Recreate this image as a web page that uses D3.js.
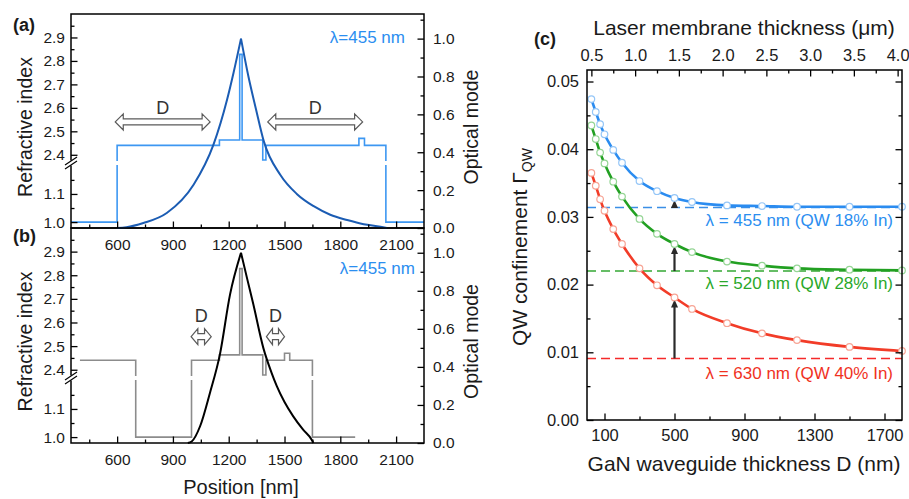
<!DOCTYPE html>
<html>
<head>
<meta charset="utf-8">
<script src="https://cdn.jsdelivr.net/npm/d3@7"></script>
<style>
  body { margin: 0; background: #fff; }
  svg { display: block; font-family: "Liberation Sans", Arial, Helvetica, sans-serif; }
</style>
</head>
<body>
<svg id="fig" width="909" height="499"></svg>
<script>
// ---------- data, panels (a) and (b) ----------
const posTicks = [600, 900, 1200, 1500, 1800, 2100];
const posMinor = [450, 750, 1050, 1350, 1650, 1950];
const indexTicks = [1.0, 1.1, 2.4, 2.5, 2.6, 2.7, 2.8, 2.9];
const indexMinor = [1.05, 1.15, 2.45, 2.55, 2.65, 2.75, 2.85, 2.95];
const modeTicks = [0, 0.2, 0.4, 0.6, 0.8, 1.0];
const modeMinor = [0.1, 0.3, 0.5, 0.7, 0.9, 1.1];

// refractive index steps: [start position (nm), index]
const indexA = [[352, 1.0], [600, 2.44], [1150, 2.463], [1259, 2.828], [1272, 2.463],
  [1383, 2.378], [1400, 2.44], [1900, 2.47], [1930, 2.44], [2045, 1.0], [2250, 1.0]];
const indexB = [[400, 2.44], [700, 1.0], [1000, 2.44], [1150, 2.463], [1259, 2.828], [1272, 2.463],
  [1383, 2.378], [1400, 2.44], [1500, 2.47], [1528, 2.44], [1650, 1.0], [1880, 1.0]];

// optical mode |E|^2, left and right of the peak
const modeALeft = [[600, 0], [650, 0.004], [741, 0.026], [867, 0.079], [1011, 0.228],
  [1118, 0.44], [1191, 0.677], [1226, 0.82], [1266, 1.0]];
const modeARight = [[1266, 1.0], [1306, 0.8], [1346, 0.63], [1388, 0.46], [1478, 0.28],
  [1566, 0.18], [1657, 0.115], [1746, 0.07], [1837, 0.042], [1926, 0.02], [2016, 0.007], [2050, 0]];
const modeBLeft = [[980, 0], [1001, 0.008], [1046, 0.088], [1099, 0.263], [1153, 0.467],
  [1207, 0.78], [1266, 1.0]];
const modeBRight = [[1266, 1.0], [1300, 0.86], [1332, 0.73], [1386, 0.5], [1430, 0.37],
  [1458, 0.3], [1500, 0.215], [1547, 0.14], [1600, 0.07], [1646, 0.017], [1655, 0]];

// "D" arrows, [from, to] in nm
const dArrowsA = [[590, 1100], [1410, 1920]];
const dArrowsB = [[998, 1106], [1403, 1500]];

// ---------- data, panel (c) ----------
const thicknessD = [25, 50, 75, 100, 150, 200, 300, 400, 500, 600, 800, 1000, 1200, 1500, 1800];
const gamma455 = [0.0474, 0.0455, 0.0437, 0.0422, 0.0399, 0.0380, 0.0353, 0.0338, 0.0328,
  0.0322, 0.0317, 0.0316, 0.0315, 0.0315, 0.0315];
const gamma520 = [0.0435, 0.0415, 0.0395, 0.0379, 0.0352, 0.0330, 0.0297, 0.0275, 0.0260,
  0.0248, 0.0234, 0.0228, 0.0224, 0.0222, 0.0221];
const gamma630 = [0.0365, 0.0346, 0.0326, 0.0309, 0.0282, 0.0260, 0.0224, 0.0199, 0.0181,
  0.0164, 0.0143, 0.0128, 0.0118, 0.0108, 0.0102];
const bulkGamma = [0.0314, 0.0220, 0.0091];
const seriesNames = ["\u03bb = 455 nm (QW 18% In)", "\u03bb = 520 nm (QW 28% In)", "\u03bb = 630 nm (QW 40% In)"];
const dTicks = [100, 500, 900, 1300, 1700];
const dMinor = [300, 700, 1100, 1500];
const membraneTicks = [0.5, 1.0, 1.5, 2.0, 2.5, 3.0, 3.5, 4.0];
const membraneMinor = [0.75, 1.25, 1.75, 2.25, 2.75, 3.25, 3.75];
const gammaTicks = [0, 0.01, 0.02, 0.03, 0.04, 0.05];
const gammaMinor = [0.005, 0.015, 0.025, 0.035, 0.045];
const arrowD = 500;

// ---------- drawing ----------
const svg = d3.select("#fig");
svg.append("rect").attr("width", 909).attr("height", 499).attr("fill", "#fff");

function styleAxis(g, size) {
  g.select(".domain").remove();
  g.selectAll("line").attr("stroke", "#000").attr("stroke-width", 1.3);
  g.selectAll("text").attr("font-size", size).attr("fill", "#1a1a1a").attr("font-family", null);
}

// makeAxis returns a fresh d3 axis each time (minor + major ticks, all pointing inwards)
function tickAxis(g, makeAxis, major, minor, fmt, pad, size) {
  g.append("g").call(makeAxis().tickValues(minor).tickSize(-3.5).tickFormat(""))
    .call(s => styleAxis(s, size));
  g.append("g").call(makeAxis().tickValues(major).tickSize(-6.5).tickPadding(pad).tickFormat(fmt))
    .call(s => styleAxis(s, size));
}

const xPos = d3.scaleLinear().domain([352, 2250]).range([71, 424]);
const L = 71, R = 424;

function drawPanel(T, B, idxData, mLeft, mRight, idxColor, modeColor, arrows, dGap, lam, tag) {
  const yBreak = B - 65;
  const yIdx = d3.scaleLinear().domain([0.979, 1.21, 2.365, 3.0]).range([B, yBreak, yBreak, T]);
  const yMode = d3.scaleLinear().domain([0, 1.13]).range([B, T]);
  const g = svg.append("g");

  // index profile, with a gap where it crosses the axis break
  const cid = "clip" + tag;
  const clip = g.append("clipPath").attr("id", cid);
  clip.append("rect").attr("x", L).attr("y", T).attr("width", R - L).attr("height", yBreak - 2 - T);
  clip.append("rect").attr("x", L).attr("y", yBreak + 2).attr("width", R - L).attr("height", B - yBreak - 2);
  const stepLine = d3.line().x(d => xPos(d[0])).y(d => yIdx(d[1])).curve(d3.curveStepAfter);
  g.append("path").datum(idxData).attr("d", stepLine).attr("clip-path", `url(#${cid})`)
    .attr("fill", "none").attr("stroke", idxColor).attr("stroke-width", 1.6);

  // optical mode
  const modeLine = d3.line().x(d => xPos(d[0])).y(d => yMode(d[1])).curve(d3.curveMonotoneX);
  [mLeft, mRight].forEach(part => {
    g.append("path").datum(part).attr("d", modeLine)
      .attr("fill", "none").attr("stroke", modeColor).attr("stroke-width", 2);
  });

  // hollow double arrows labelled D
  arrows.forEach(([a, b]) => {
    const x1 = xPos(a), x2 = xPos(b), yc = yIdx(2.54);
    const hl = Math.min(8, (x2 - x1) / 3), hh = 8, sh = 3;
    const p = `M${x1},${yc}L${x1 + hl},${yc - hh}L${x1 + hl},${yc - sh}L${x2 - hl},${yc - sh}L${x2 - hl},${yc - hh}` +
      `L${x2},${yc}L${x2 - hl},${yc + hh}L${x2 - hl},${yc + sh}L${x1 + hl},${yc + sh}L${x1 + hl},${yc + hh}Z`;
    g.append("path").attr("d", p).attr("fill", "#fff").attr("stroke", "#5a5a5a").attr("stroke-width", 1.2);
    g.append("text").attr("x", (x1 + x2) / 2).attr("y", yc - dGap).attr("text-anchor", "middle")
      .attr("font-size", 18).attr("fill", "#333").text("D");
  });

  // frame
  g.append("rect").attr("x", L).attr("y", T).attr("width", R - L).attr("height", B - T)
    .attr("fill", "none").attr("stroke", "#000").attr("stroke-width", 1.5);

  // axes
  tickAxis(g.append("g").attr("transform", `translate(${L},0)`), () => d3.axisLeft(yIdx),
    indexTicks, indexMinor, d3.format(".1f"), 6, 15.5);
  tickAxis(g.append("g").attr("transform", `translate(${R},0)`), () => d3.axisRight(yMode),
    modeTicks, modeMinor, d3.format(".1f"), 9, 15.5);
  tickAxis(g.append("g").attr("transform", `translate(0,${B})`), () => d3.axisBottom(xPos),
    posTicks, posMinor, d3.format("d"), 11, 15.5);

  // axis break marks
  g.append("rect").attr("x", L - 3).attr("y", yBreak - 2.5).attr("width", 6).attr("height", 5).attr("fill", "#fff");
  [-2, 2].forEach(o => {
    g.append("line").attr("x1", L - 6).attr("y1", yBreak + o + 4).attr("x2", L + 6).attr("y2", yBreak + o - 4)
      .attr("stroke", "#000").attr("stroke-width", 1.1);
  });

  // titles
  g.append("text").attr("transform", `translate(32,${(T + B) / 2 + 6}) rotate(-90)`).attr("text-anchor", "middle")
    .attr("font-size", 19.5).attr("fill", "#1a1a1a").text("Refractive index");
  g.append("text").attr("transform", `translate(478,${(T + B) / 2 + 6}) rotate(-90)`).attr("text-anchor", "middle")
    .attr("font-size", 19.5).attr("fill", "#1a1a1a").text("Optical mode");
  g.append("text").attr("x", lam[0]).attr("y", lam[1]).attr("text-anchor", "end")
    .attr("font-size", 17).attr("fill", "#2b8ef0").text("\u03bb=455 nm");
  return g;
}

drawPanel(228, 443, indexB, modeBLeft, modeBRight, "#8c8c8c", "#000", dArrowsB, 15, [415, 274], "b");
drawPanel(14, 228, indexA, modeALeft, modeARight, "#3d97f2", "#1b5cb3", dArrowsA, 8, [405, 43], "a");

svg.append("text").attr("x", 13).attr("y", 31).attr("font-size", 18).attr("font-weight", "bold")
  .attr("fill", "#1a1a1a").text("(a)");
svg.append("text").attr("x", 13).attr("y", 242).attr("font-size", 18).attr("font-weight", "bold")
  .attr("fill", "#1a1a1a").text("(b)");
svg.append("text").attr("x", 241).attr("y", 494).attr("text-anchor", "middle").attr("font-size", 20)
  .attr("fill", "#1a1a1a").text("Position [nm]");

// ---------- panel (c) ----------
const cL = 587, cR = 902, cT = 70, cB = 420;
const xD = d3.scaleLinear().domain([0, 1800]).range([cL, cR]);
const xMem = d3.scaleLinear().domain([0.45, 4.05]).range([cL, cR]);
const yG = d3.scaleLinear().domain([0, 0.0517]).range([cB, cT]);
const gc = svg.append("g");

const colors = ["#2b8cf0", "#22a022", "#f23c28"];
const markerStroke = ["#95c6f7", "#95d595", "#f7a495"];
const dashColors = ["#3b8fe6", "#35a835", "#f52a2a"];
const labelColors = ["#2b8ef0", "#2aa82a", "#f0321e"];
const labelY = [226, 289, 379];
const series = [gamma455, gamma520, gamma630];

// dashed bulk lines
bulkGamma.forEach((v, i) => {
  gc.append("line").attr("x1", cL).attr("x2", cR).attr("y1", yG(v)).attr("y2", yG(v))
    .attr("stroke", dashColors[i]).attr("stroke-width", 1.5).attr("stroke-dasharray", "9,5");
});

// arrows at D = 500 nm
const iArrow = thicknessD.indexOf(arrowD);
series.forEach((s, i) => {
  const x = xD(arrowD), y0 = yG(bulkGamma[i]), y1 = yG(s[iArrow]) + 2;
  gc.append("line").attr("x1", x).attr("x2", x).attr("y1", y0).attr("y2", y1 + 6)
    .attr("stroke", "#2a2a2a").attr("stroke-width", 2.2);
  gc.append("path").attr("d", `M${x - 3.5},${y1 + 8}L${x},${y1}L${x + 3.5},${y1 + 8}Z`).attr("fill", "#2a2a2a");
});

const gLine = d3.line().x(d => xD(d[0])).y(d => yG(d[1])).curve(d3.curveMonotoneX);
series.forEach((s, i) => {
  const pts = thicknessD.map((d, k) => [d, s[k]]);
  gc.append("path").datum(pts).attr("d", gLine).attr("fill", "none")
    .attr("stroke", colors[i]).attr("stroke-width", 2.6);
  gc.selectAll(null).data(pts).enter().append("circle")
    .attr("cx", d => xD(d[0])).attr("cy", d => yG(d[1])).attr("r", 3.3)
    .attr("fill", "#fff").attr("stroke", markerStroke[i]).attr("stroke-width", 1.2);
  gc.append("text").attr("x", 893).attr("y", labelY[i]).attr("text-anchor", "end")
    .attr("font-size", 17).attr("fill", labelColors[i]).text(seriesNames[i]);
});

gc.append("rect").attr("x", cL).attr("y", cT).attr("width", cR - cL).attr("height", cB - cT)
  .attr("fill", "none").attr("stroke", "#000").attr("stroke-width", 1.5);

tickAxis(gc.append("g").attr("transform", `translate(${cL},0)`), () => d3.axisLeft(yG),
  gammaTicks, gammaMinor, d3.format(".2f"), 8, 16.5);
tickAxis(gc.append("g").attr("transform", `translate(${cR},0)`), () => d3.axisRight(yG),
  gammaTicks, gammaMinor, () => "", 8, 16.5);
tickAxis(gc.append("g").attr("transform", `translate(0,${cB})`), () => d3.axisBottom(xD),
  dTicks, dMinor, d3.format("d"), 9.5, 16.5);
tickAxis(gc.append("g").attr("transform", `translate(0,${cT})`), () => d3.axisTop(xMem),
  membraneTicks, membraneMinor, d3.format(".1f"), 9, 16.5);

gc.append("text").attr("x", 744).attr("y", 35).attr("text-anchor", "middle").attr("font-size", 21)
  .attr("fill", "#1a1a1a").text("Laser membrane thickness (\u03bcm)");
gc.append("text").attr("x", 744).attr("y", 471).attr("text-anchor", "middle").attr("font-size", 21)
  .attr("fill", "#1a1a1a").text("GaN waveguide thickness D (nm)");
const yt = gc.append("text").attr("transform", "translate(527,247) rotate(-90)").attr("text-anchor", "middle")
  .attr("font-size", 21).attr("fill", "#1a1a1a");
yt.append("tspan").text("QW confinement \u0393");
yt.append("tspan").attr("dy", 5).attr("font-size", 14).text("QW");
gc.append("text").attr("x", 534).attr("y", 45).attr("font-size", 18).attr("font-weight", "bold")
  .attr("fill", "#1a1a1a").text("(c)");
</script>
</body>
</html>
